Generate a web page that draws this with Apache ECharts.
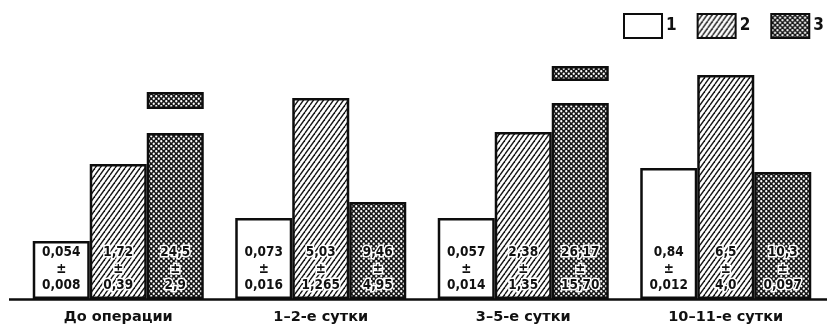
<!DOCTYPE html>
<html><head><meta charset="utf-8">
<script src="https://cdn.jsdelivr.net/npm/echarts@6/dist/echarts.min.js"></script>
<style>html,body{margin:0;padding:0;background:#fff}#c{width:827px;height:327px}</style>
</head><body><div id="c"></div>
<script>
// ---- data (bar heights, relative units) ----
const categories = ['До операции', '1–2-е сутки', '3–5-е сутки', '10–11-е сутки'];
const seriesNames = ['1', '2', '3'];
const heights1 = [58, 81, 81, 131];
const heights2 = [135, 201, 167, 224];
const heights3 = [166, 97, 196, 127];
const breakGap3 = [24, null, 22, null];   // interrupted (broken) bars of series 3
const breakCap3 = [17, null, 15, null];
const mean1 = ['0,054', '0,073', '0,057', '0,84'];
const err1  = ['0,008', '0,016', '0,014', '0,012'];
const mean2 = ['1,72', '5,03', '2,38', '6,5'];
const err2  = ['0,39', '1,265', '1,35', '4,0'];
const mean3 = ['24,5', '9,46', '26,17', '10,3'];
const err3  = ['2,9', '4,95', '15,70', '0,097'];

// ---- fill patterns ----
function hatchPattern() {
  const w = 5, h = 7;
  const c = document.createElement('canvas'); c.width = w; c.height = h;
  const g = c.getContext('2d');
  g.fillStyle = '#fff'; g.fillRect(0, 0, w, h);
  g.strokeStyle = '#151515'; g.lineWidth = 1.4;
  for (const dx of [-w, 0, w]) { g.beginPath(); g.moveTo(dx, h); g.lineTo(dx + w, 0); g.stroke(); }
  return c;
}
function dotPattern() {
  const w = 5, h = 5;
  const c = document.createElement('canvas'); c.width = w; c.height = h;
  const g = c.getContext('2d');
  g.fillStyle = '#161616'; g.fillRect(0, 0, w, h);
  g.fillStyle = '#fff';
  for (const [x, y] of [[1.25, 1.25], [3.75, 3.75]]) { g.beginPath(); g.arc(x, y, 1.15, 0, Math.PI * 2); g.fill(); }
  return c;
}
const hatch = { image: hatchPattern(), repeat: 'repeat' };
const dots = { image: dotPattern(), repeat: 'repeat' };

const numFont = "'Liberation Sans Narrow', 'DejaVu Sans Condensed', sans-serif";
function makeLabel(means, errs, halo) {
  return {
    show: true, position: 'insideBottom', distance: 5,
    formatter: p => means[p.dataIndex] + '\n±\n' + errs[p.dataIndex],
    fontFamily: numFont, fontWeight: 'bold', fontSize: 13.5, lineHeight: 16.5,
    color: '#111', align: 'center',
    textBorderColor: halo ? '#fff' : 'transparent', textBorderWidth: halo ? 3 : 0
  };
}
const border = { borderColor: '#0d0d0d', borderWidth: 2.5 };

const chart = echarts.init(document.getElementById('c'), null, { renderer: 'canvas' });
chart.setOption({
  animation: false,
  backgroundColor: '#fff',
  grid: { left: 17, width: 813, top: 49, bottom: 28, containLabel: false },
  legend: {
    data: seriesNames, left: 623, top: 13, width: 204, padding: 0,
    itemWidth: 38, itemHeight: 24, itemGap: 20,
    icon: 'rect', selectedMode: false,
    textStyle: { fontFamily: numFont, fontWeight: 'bold', fontSize: 17, color: '#111', padding: [0, 0, 0, -1] }
  },
  xAxis: {
    type: 'category', data: categories,
    axisLine: { show: false }, axisTick: { show: false },
    axisLabel: { margin: 11, fontFamily: "'DejaVu Sans', sans-serif", fontWeight: 'bold', fontSize: 14.5, color: '#111' }
  },
  yAxis: { type: 'value', min: 0, max: 250, show: false, splitLine: { show: false } },
  series: [
    { name: seriesNames[0], type: 'bar', stack: 'a', data: heights1, barWidth: 57, barGap: '0%',
      itemStyle: Object.assign({ color: '#fff' }, border), label: makeLabel(mean1, err1, false) },
    { name: seriesNames[1], type: 'bar', stack: 'b', data: heights2, barWidth: 57, barGap: '0%',
      itemStyle: Object.assign({ color: hatch }, border), label: makeLabel(mean2, err2, true) },
    { name: seriesNames[2], type: 'bar', stack: 'c', data: heights3, barWidth: 57, barGap: '0%',
      itemStyle: Object.assign({ color: dots }, border), label: makeLabel(mean3, err3, true) },
    { name: 'break', type: 'bar', stack: 'c', data: breakGap3, barWidth: 57, barGap: '0%',
      itemStyle: { color: '#fff', borderWidth: 0 }, silent: true },
    { name: 'cap', type: 'bar', stack: 'c', data: breakCap3, barWidth: 57, barGap: '0%',
      itemStyle: Object.assign({ color: dots }, border), silent: true }
  ],
  graphic: [{
    type: 'line', shape: { x1: 9, y1: 299.5, x2: 827, y2: 299.5 },
    style: { stroke: '#0d0d0d', lineWidth: 2.5 }, z: 10
  }]
});
</script></body></html>
